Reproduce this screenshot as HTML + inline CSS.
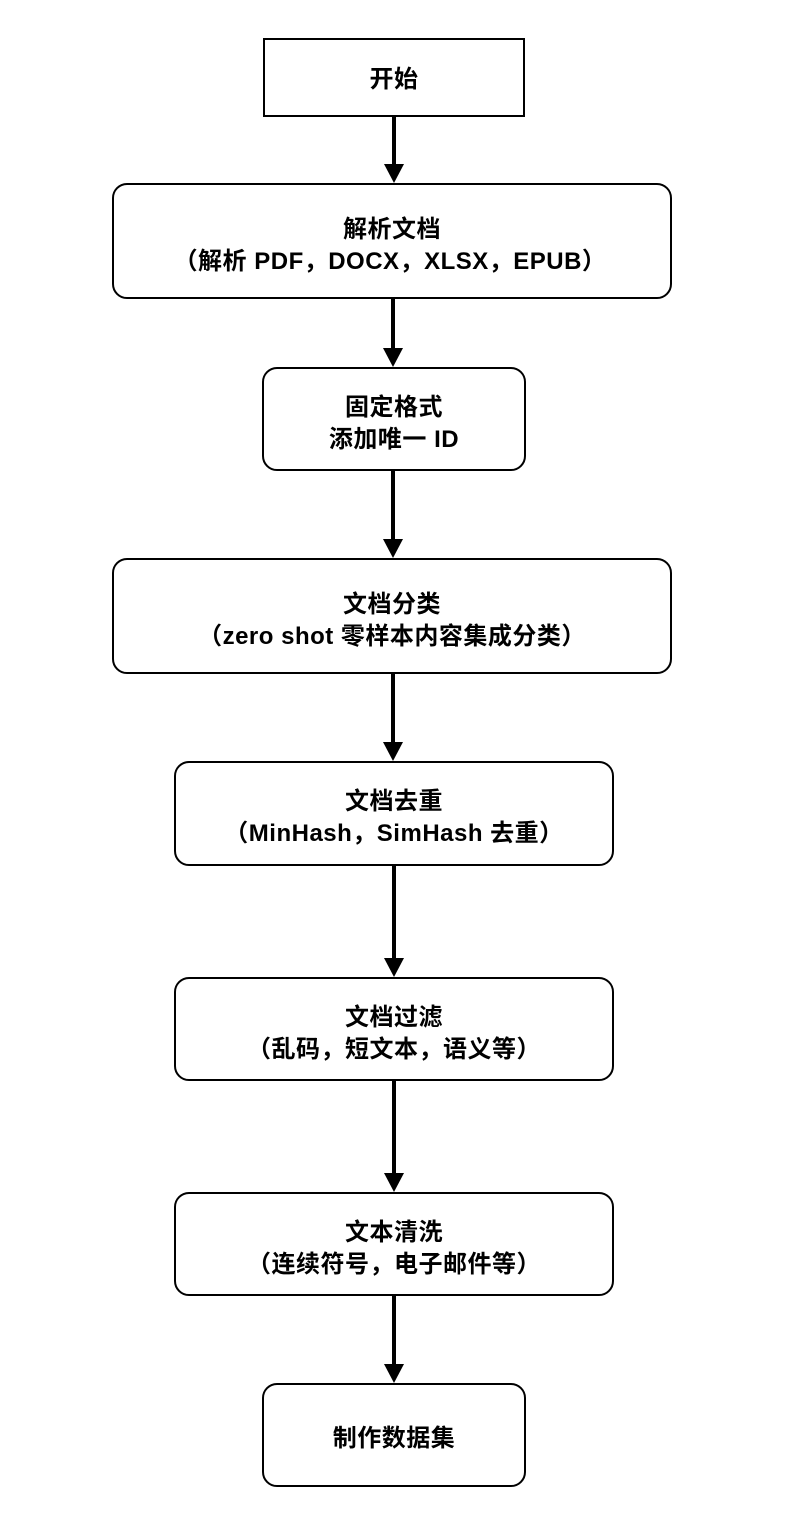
<!DOCTYPE html>
<html><head><meta charset="utf-8"><style>
body{margin:0;background:#fff}
svg text{font-family:"Liberation Sans","Noto Sans CJK SC",sans-serif;font-weight:bold;font-size:24px;text-anchor:middle;fill:#000;letter-spacing:0.5px}
</style></head><body>
<svg width="794" height="1530" xmlns="http://www.w3.org/2000/svg">
<g fill="none" stroke="#000" stroke-width="2">
<rect x="264" y="39" width="260" height="77"/>
<rect x="113" y="184" width="558" height="114" rx="14"/>
<rect x="263" y="368" width="262" height="102" rx="14"/>
<rect x="113" y="559" width="558" height="114" rx="14"/>
<rect x="175" y="762" width="438" height="103" rx="14"/>
<rect x="175" y="978" width="438" height="102" rx="14"/>
<rect x="175" y="1193" width="438" height="102" rx="14"/>
<rect x="263" y="1384" width="262" height="102" rx="14"/>
</g>
<g stroke="#000" stroke-width="4">
<line x1="394" y1="116" x2="394" y2="166"/>
<line x1="393" y1="298" x2="393" y2="350"/>
<line x1="393" y1="470" x2="393" y2="541"/>
<line x1="393" y1="673" x2="393" y2="744"/>
<line x1="394" y1="865" x2="394" y2="960"/>
<line x1="394" y1="1080" x2="394" y2="1175"/>
<line x1="394" y1="1295" x2="394" y2="1366"/>
</g>
<g fill="#000">
<polygon points="384,164 404,164 394,183"/>
<polygon points="383,348 403,348 393,367"/>
<polygon points="383,539 403,539 393,558"/>
<polygon points="383,742 403,742 393,761"/>
<polygon points="384,958 404,958 394,977"/>
<polygon points="384,1173 404,1173 394,1192"/>
<polygon points="384,1364 404,1364 394,1383"/>
</g>
<text x="394" y="87">开始</text>
<text x="392" y="237">解析文档</text>
<text x="390" y="269">（解析 PDF，DOCX，XLSX，EPUB）</text>
<text x="394" y="415">固定格式</text>
<text x="394" y="447">添加唯一 ID</text>
<text x="392" y="612">文档分类</text>
<text x="392" y="644">（zero shot 零样本内容集成分类）</text>
<text x="394" y="809">文档去重</text>
<text x="394" y="841">（MinHash，SimHash 去重）</text>
<text x="394" y="1025">文档过滤</text>
<text x="394" y="1057">（乱码，短文本，语义等）</text>
<text x="394" y="1240">文本清洗</text>
<text x="394" y="1272">（连续符号，电子邮件等）</text>
<text x="394" y="1446">制作数据集</text>
</svg>
</body></html>
